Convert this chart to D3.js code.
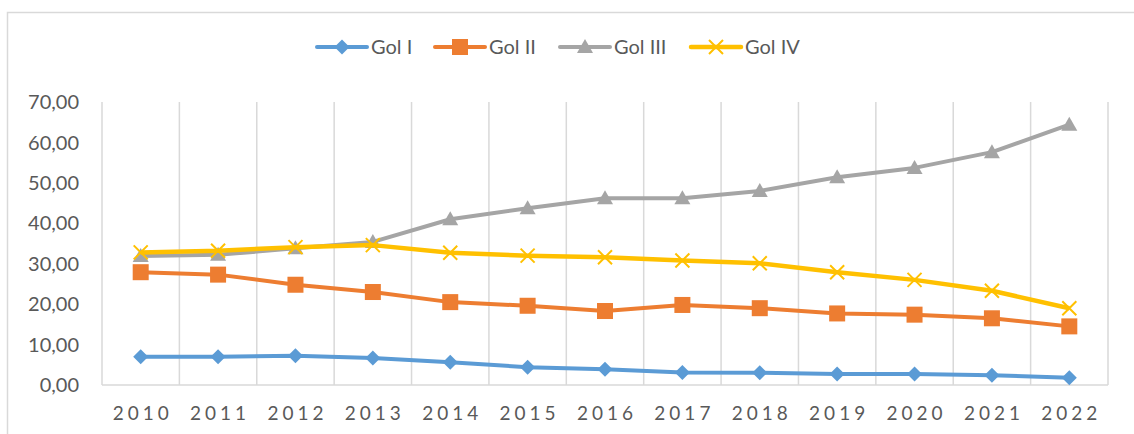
<!DOCTYPE html>
<html>
<head>
<meta charset="utf-8">
<script src="https://cdn.jsdelivr.net/npm/d3@7"></script>
<style>
    body { margin: 0; background: #fff; }
    svg { display: block; font-family: Lato, "Open Sans", sans-serif; }
</style>
</head>
<body>
<div id="chart"></div>
<script>
const years = ["2010", "2011", "2012", "2013", "2014", "2015", "2016", "2017", "2018", "2019", "2020", "2021", "2022"];
const golI = [7.0, 7.0, 7.25, 6.7, 5.6, 4.4, 3.9, 3.1, 3.05, 2.7, 2.7, 2.4, 1.8];
const golII = [27.9, 27.3, 24.8, 23.0, 20.5, 19.6, 18.3, 19.8, 19.0, 17.7, 17.4, 16.5, 14.5];
const golIII = [31.9, 32.2, 33.8, 35.4, 41.0, 43.7, 46.2, 46.2, 48.0, 51.4, 53.7, 57.6, 64.4];
const golIV = [32.8, 33.2, 34.1, 34.6, 32.7, 32.0, 31.6, 30.8, 30.1, 27.9, 26.0, 23.3, 19.0];
const yTicks = [0, 10, 20, 30, 40, 50, 60, 70];

const series = [
    {name: "Gol I", values: golI, color: "#5B9BD5", marker: "diamond", width: 4},
    {name: "Gol II", values: golII, color: "#ED7D31", marker: "square", width: 4},
    {name: "Gol III", values: golIII, color: "#A5A5A5", marker: "triangle", width: 4},
    {name: "Gol IV", values: golIV, color: "#FFC000", marker: "x", width: 4.5}
];

const W = 1134, H = 434;
const plot = {left: 102, right: 1108, top: 102, bottom: 385};

const svg = d3.select("#chart").append("svg")
    .attr("width", W)
    .attr("height", H);

// chart border
svg.append("rect")
    .attr("x", 7.5).attr("y", 12.5)
    .attr("width", W + 10).attr("height", H + 10)
    .attr("fill", "none")
    .attr("stroke", "#D9D9D9")
    .attr("stroke-width", 1.5);

const x = d3.scaleBand().domain(years).range([plot.left, plot.right]);
const y = d3.scaleLinear().domain([0, 70]).range([plot.bottom, plot.top]);
const cx = d => x(d) + x.bandwidth() / 2;

// vertical gridlines at category boundaries
const bounds = years.map(d => x(d)).concat([plot.right]);
svg.append("g").selectAll("line")
    .data(bounds)
    .join("line")
    .attr("x1", d => d).attr("x2", d => d)
    .attr("y1", plot.top).attr("y2", plot.bottom)
    .attr("stroke", "#D9D9D9")
    .attr("stroke-width", 1.5);

// bottom axis line
svg.append("line")
    .attr("x1", plot.left).attr("x2", plot.right)
    .attr("y1", plot.bottom).attr("y2", plot.bottom)
    .attr("stroke", "#D9D9D9")
    .attr("stroke-width", 1.5);

// y labels
svg.append("g").selectAll("text")
    .data(yTicks)
    .join("text")
    .attr("x", 79)
    .attr("y", d => y(d))
    .attr("dy", "0.36em")
    .attr("text-anchor", "end")
    .attr("font-size", 20)
    .attr("fill", "#595959")
    .text(d => d3.format(".2f")(d).replace(".", ","));

// x labels
svg.append("g").selectAll("text")
    .data(years)
    .join("text")
    .attr("x", d => cx(d) + 2)
    .attr("y", 420)
    .attr("text-anchor", "middle")
    .attr("font-size", 19)
    .attr("letter-spacing", 4)
    .attr("fill", "#595959")
    .text(d => d);

function drawMarker(g, type, color) {
    if (type === "diamond") {
        g.append("path").attr("d", "M0,-7.5L7.5,0L0,7.5L-7.5,0Z").attr("fill", color);
    } else if (type === "square") {
        g.append("rect").attr("x", -8).attr("y", -8).attr("width", 16).attr("height", 16).attr("fill", color);
    } else if (type === "triangle") {
        g.append("path").attr("d", "M0,-8L8,6L-8,6Z").attr("fill", color);
    } else {
        g.append("path").attr("d", "M-7,-7L7,7M-7,7L7,-7")
            .attr("stroke", color).attr("stroke-width", 2).attr("fill", "none");
    }
}

const line = d3.line()
    .x((d, i) => cx(years[i]))
    .y(d => y(d));

series.forEach(s => {
    const g = svg.append("g");
    g.append("path")
        .datum(s.values)
        .attr("d", line)
        .attr("fill", "none")
        .attr("stroke", s.color)
        .attr("stroke-width", s.width)
        .attr("stroke-linejoin", "round");
    s.values.forEach((v, i) => {
        const m = g.append("g").attr("transform", `translate(${cx(years[i])},${y(v)})`);
        drawMarker(m, s.marker, s.color);
    });
});

// legend
const legendX = [317, 435, 560, 691];
series.forEach((s, i) => {
    const lg = svg.append("g").attr("transform", `translate(${legendX[i]},47)`);
    lg.append("line")
        .attr("x1", 0).attr("x2", 50)
        .attr("stroke", s.color)
        .attr("stroke-width", s.width)
        .attr("stroke-linecap", "round");
    drawMarker(lg.append("g").attr("transform", "translate(25,0)"), s.marker, s.color);
    lg.append("text")
        .attr("x", 54)
        .attr("dy", "0.36em")
        .attr("font-size", 20)
        .attr("fill", "#595959")
        .text(s.name);
});
</script>
</body>
</html>
